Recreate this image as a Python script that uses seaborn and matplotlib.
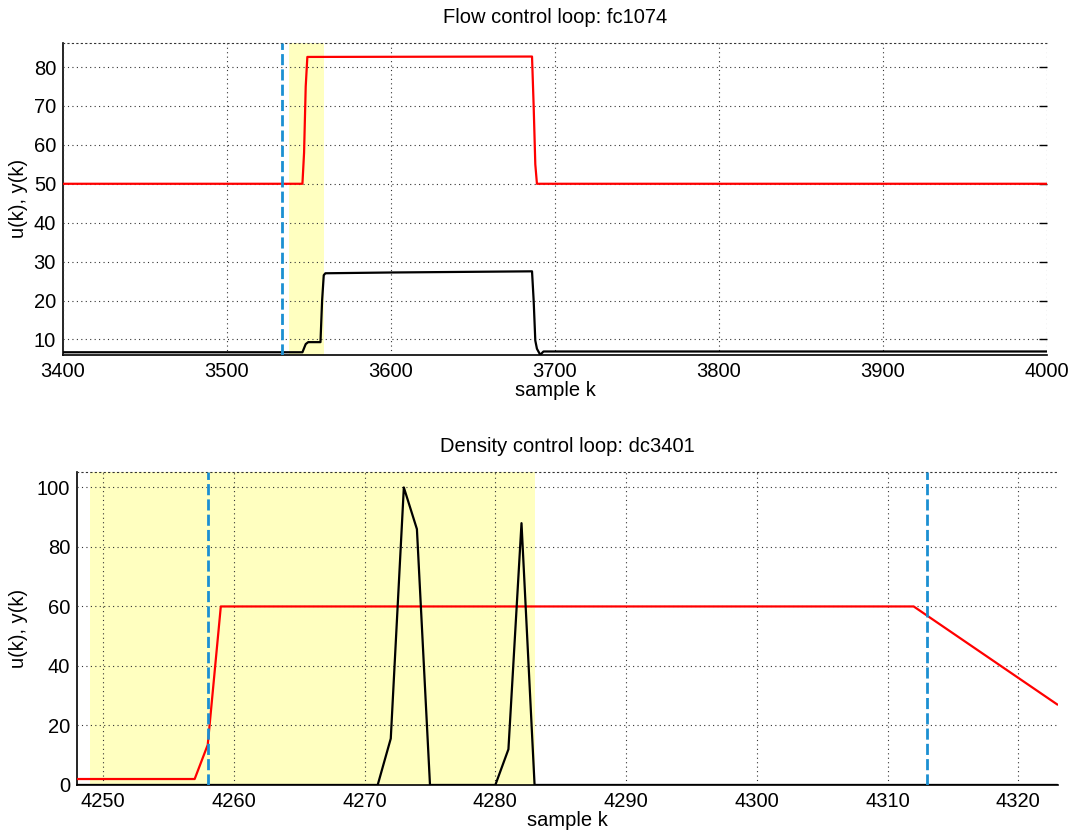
import matplotlib
matplotlib.use("Agg")
import matplotlib.pyplot as plt
import seaborn as sns
import pandas as pd

# ---------------- data ----------------
# Flow control loop fc1074
fc_u_k = [3400, 3546, 3547, 3548, 3549, 3686, 3687, 3688, 3689, 4000]
fc_u = [50, 50, 58, 75, 82.6, 82.7, 70, 55, 50, 50]
fc_y_k = [3400, 3546, 3548, 3549.5, 3557, 3558, 3559, 3560, 3600, 3686,
          3687, 3688, 3689, 3691, 3693, 4000]
fc_y = [6.7, 6.7, 8.8, 9.3, 9.3, 20, 26.5, 27.0, 27.2, 27.5,
        20, 9.7, 7.6, 6.05, 6.9, 6.9]
fc_marks = [3533.5]
fc_span = (3538, 3559)

# Density control loop dc3401
dc_u_k = [4248, 4257, 4258, 4259, 4312, 4323]
dc_u = [2, 2, 13.5, 60, 60, 27]
dc_y_k = [4248, 4271, 4272, 4273, 4274, 4275, 4280, 4281, 4282, 4283, 4323]
dc_y = [0, 0, 15.6, 100, 86, 0, 0, 12, 88, 0, 0]
dc_marks = [4258, 4313]
dc_span = (4249, 4283)

titles = ["Flow control loop: fc1074", "Density control loop: dc3401"]
xlabel = "sample k"
ylabel = "u(k), y(k)"

# ---------------- style ----------------
sns.set_style("white")
plt.rcParams["font.family"] = ["Liberation Sans", "DejaVu Sans"]
plt.rcParams["text.color"] = "black"
plt.rcParams["axes.labelcolor"] = "black"
FS = 14.5

fig = plt.figure(figsize=(10.77, 8.39), dpi=100)
ax1 = fig.add_axes([0.0585, 0.5769, 0.9136, 0.3724])
ax2 = fig.add_axes([0.0715, 0.0644, 0.9104, 0.3734])

RED = "#ff0000"
BLUE = "#1b8fd2"
YELLOW = "#ffffc0"


def draw(ax, uk, u, yk, y, marks, span, xlim, ylim, xticks, yticks, title,
         right_ticks, ylab_x):
    ax.axvspan(span[0], span[1], color=YELLOW, zorder=0, lw=0)
    dfu = pd.DataFrame({"k": uk, "v": u})
    dfy = pd.DataFrame({"k": yk, "v": y})
    sns.lineplot(data=dfu, x="k", y="v", ax=ax, color=RED, lw=1.6,
                 estimator=None, sort=False, zorder=3)
    sns.lineplot(data=dfy, x="k", y="v", ax=ax, color="black", lw=1.6,
                 estimator=None, sort=False, zorder=3)
    for m in marks:
        ax.axvline(m, color=BLUE, lw=2.0, dashes=(4, 1.5), zorder=4)
    ax.set_xlim(*xlim)
    ax.set_ylim(*ylim)
    ax.set_xticks(xticks)
    ax.set_yticks(yticks)
    ax.grid(True, color="#333333", ls=(0, (1, 3)), lw=0.8, zorder=1)
    ax.set_axisbelow(False)
    for gl in ax.get_xgridlines() + ax.get_ygridlines():
        gl.set_zorder(1)
    ax.set_title(title, fontsize=FS, pad=14, color="black")
    ax.set_xlabel(xlabel, fontsize=FS, labelpad=0)
    ax.set_ylabel(ylabel, fontsize=FS)
    ax.yaxis.set_label_coords(ylab_x, 0.5)
    ax.tick_params(axis="both", direction="in", length=6, width=1,
                   labelsize=FS, colors="black", pad=5,
                   right=right_ticks)
    for s in ["left", "bottom"]:
        ax.spines[s].set_color("black")
        ax.spines[s].set_linewidth(1.2)
    ax.spines["top"].set_color("#333333")
    ax.spines["top"].set_linestyle((0, (1, 3)))
    ax.spines["top"].set_linewidth(0.8)
    ax.spines["right"].set_visible(False)


draw(ax1, fc_u_k, fc_u, fc_y_k, fc_y, fc_marks, fc_span,
     (3400, 4000), (6.0, 86.3), list(range(3400, 4001, 100)),
     list(range(10, 81, 10)), titles[0], True, -0.036)
draw(ax2, dc_u_k, dc_u, dc_y_k, dc_y, dc_marks, dc_span,
     (4248, 4323), (0, 105.3), list(range(4250, 4321, 10)),
     list(range(0, 101, 20)), titles[1], False, -0.050)

fig.savefig("out.png", dpi=100)
